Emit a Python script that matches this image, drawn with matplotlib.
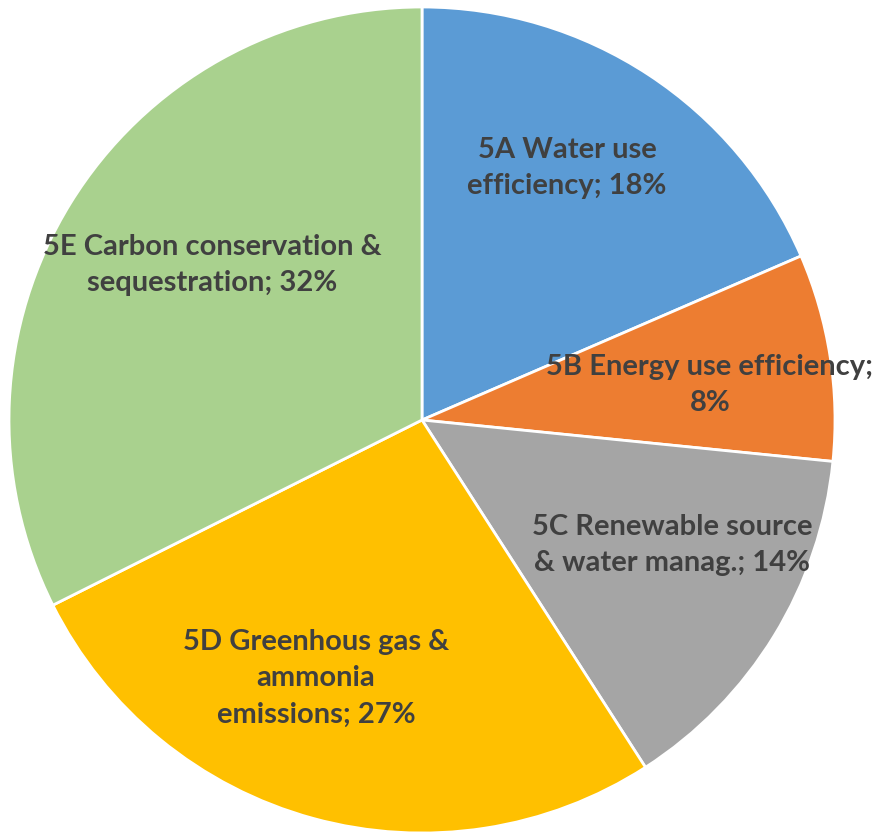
import matplotlib
matplotlib.use("Agg")
from matplotlib import pyplot as plt

# slice data, clockwise from 12 o'clock
names = ["5A", "5B", "5C", "5D", "5E"]
values = [18.5, 8.1, 14.3, 26.7, 32.4]
labels = ["5A Water use\nefficiency; 18%",
          "5B Energy use efficiency;\n8%",
          "5C Renewable source\n& water manag.; 14%",
          "5D Greenhous gas &\nammonia\nemissions; 27%",
          "5E Carbon conservation &\nsequestration; 32%"]
colors = ["#5B9BD5", "#ED7D31", "#A5A5A5", "#FFC000", "#A9D18E"]
label_xy = [(0.351, 0.610), (0.697, 0.085), (0.605, -0.303),
            (-0.257, -0.625), (-0.508, 0.375)]


def main():
	plt.rcParams['font.family'] = ['Lato', 'DejaVu Sans']

	fig = plt.figure(figsize=(8.76, 8.32), dpi=100)
	ax = fig.add_axes([9 / 876, -1 / 832, 826 / 876, 826 / 832])

	ax.pie(values, colors=colors, startangle=90, counterclock=False,
	       radius=1.0, wedgeprops=dict(edgecolor="white", linewidth=2))

	for lab, (x, y) in zip(labels, label_xy):
		ax.text(x, y, lab, ha="center", va="center", fontsize=21,
		        fontweight="bold", color="#404040", linespacing=1.5)

	ax.set_xlim(-1, 1)
	ax.set_ylim(-1, 1)
	ax.set_aspect("equal")
	ax.axis("off")

	plt.savefig("out.png", dpi=100)


if __name__ == '__main__':
	main()
